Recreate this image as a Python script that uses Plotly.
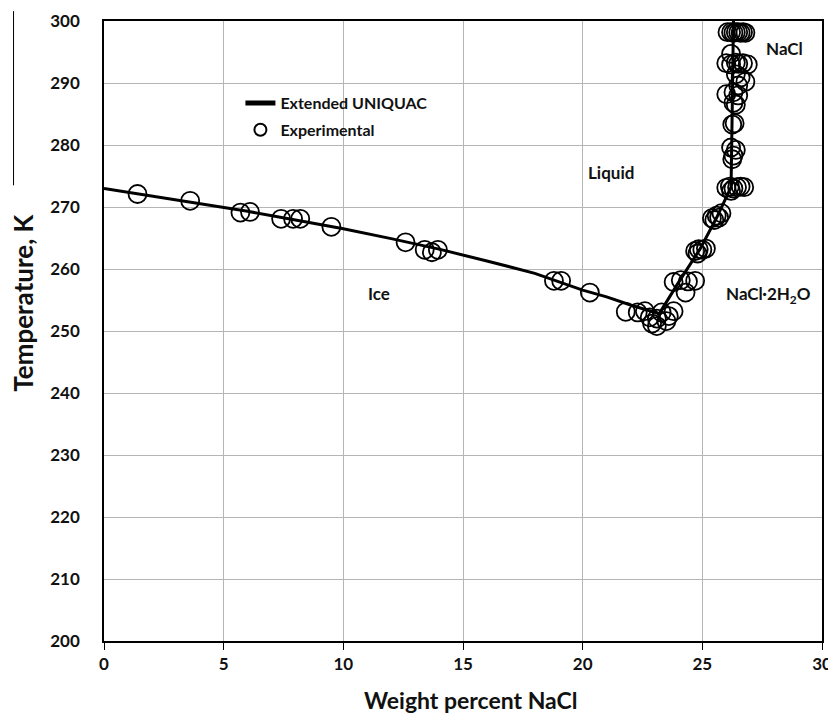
import plotly.graph_objects as go

# Extended UNIQUAC model curve (Weight percent NaCl, Temperature K)
model_x = [0, 2, 4, 6, 8, 10, 12, 14, 16, 18, 20, 21, 22, 23.2,
           24.0, 24.9, 25.6, 26.2, 26.25, 26.3]
model_t = [273.0, 271.8, 270.6, 269.3, 267.9, 266.5, 264.9, 263.2, 261.3, 259.3, 256.6, 255.5, 254.2, 252.8,
           257.8, 263.2, 268.3, 273.2, 286.0, 300.0]

# Experimental data
exp_x = [1.4, 3.6, 5.7, 6.1, 7.4, 7.9, 8.2, 9.5, 12.6, 13.4, 13.7, 13.95, 18.8, 19.1, 20.3,
         21.8, 22.3, 22.6, 22.8, 22.9, 23.1, 23.3, 23.5, 23.6, 23.8, 23.1,
         23.8, 24.1, 24.4, 24.7, 24.3,
         24.7, 24.85, 25.0, 25.15, 24.8,
         25.4, 25.6, 25.7, 25.8, 25.5,
         26.0, 26.15, 26.3, 26.45, 26.6, 26.75, 26.2,
         26.2, 26.4, 26.3, 26.25,
         26.25, 26.35,
         26.3, 26.4,
         26.0, 26.3, 26.5,
         26.4, 26.6, 26.8, 26.5,
         26.0, 26.2, 26.4, 26.5, 26.7, 26.9,
         26.2,
         26.05, 26.2, 26.3, 26.4, 26.5, 26.6, 26.7, 26.8]
exp_t = [272.1, 271.0, 269.1, 269.2, 268.1, 268.1, 268.1, 266.8, 264.3, 263.1, 262.7, 263.1, 258.1, 258.1, 256.2,
         253.1, 253.0, 253.2, 252.2, 251.2, 252.0, 253.0, 251.6, 252.4, 253.2, 250.8,
         257.9, 258.2, 258.0, 258.1, 256.2,
         262.9, 263.2, 263.1, 263.3, 262.5,
         268.2, 268.6, 268.3, 269.0, 267.9,
         273.1, 273.3, 273.0, 273.2, 273.3, 273.2, 272.6,
         279.6, 279.2, 278.3, 277.7,
         283.3, 283.5,
         286.8, 286.5,
         288.2, 288.5, 288.0,
         291.4, 290.9, 290.2, 289.6,
         293.2, 293.0, 293.3, 293.1, 293.2, 293.0,
         294.7,
         298.2, 298.2, 298.1, 298.2, 298.2, 298.1, 298.2, 298.1]

x_ticks = [0, 5, 10, 15, 20, 25, 30]
y_ticks = [200, 210, 220, 230, 240, 250, 260, 270, 280, 290, 300]
y_range = [200, 300]

x_title = "Weight percent NaCl"
y_title = "Temperature, K"

# Region labels
label_text = ["NaCl", "Liquid", "Ice", "NaCl·2H<sub>2</sub>O"]
label_x = [28.45, 21.2, 11.5, 27.75]
label_t = [295.6, 275.6, 256.0, 255.8]

FONT = "Lato, 'DejaVu Sans', sans-serif"
TICKFONT = dict(family=FONT, size=17, color="#111", weight="bold")

fig = go.Figure()
fig.add_trace(go.Scatter(
    x=model_x, y=model_t, mode="lines", name="Extended UNIQUAC",
    line=dict(color="black", width=3), legendgroup="a"))
fig.add_trace(go.Scatter(
    x=exp_x, y=exp_t, mode="markers", name="Experimental",
    marker=dict(symbol="circle-open", size=18, color="black", line=dict(width=1.8)),
    legendgroup="b"))

for t, x, y in zip(label_text, label_x, label_t):
    fig.add_annotation(x=x, y=y, text=t, showarrow=False,
                       font=dict(family=FONT, size=17, color="#111", weight="bold"))

# axis titles placed as in the reference
fig.add_annotation(text=x_title, xref="paper", yref="paper", x=0.511, y=-0.095,
                   xanchor="center", yanchor="middle", showarrow=False,
                   font=dict(family=FONT, size=23, color="#111", weight="bold"))
fig.add_annotation(text=y_title, xref="paper", yref="paper", x=-0.112, y=0.545,
                   xanchor="center", yanchor="middle", showarrow=False, textangle=-90,
                   font=dict(family=FONT, size=26, color="#111", weight="bold"))

# thin artifact line above the y title
fig.add_shape(type="line", xref="paper", yref="paper",
              x0=-0.126, x1=-0.126, y0=1.016, y1=0.735,
              line=dict(color="black", width=1))

fig.update_layout(
    width=836, height=715,
    margin=dict(l=96, r=22, t=13, b=82, autoexpand=False),
    paper_bgcolor="white", plot_bgcolor="white",
    font=dict(family=FONT, color="#111"),
    xaxis=dict(range=[0, 30], tickvals=x_ticks,
               showgrid=True, gridcolor="#b5b5b5", gridwidth=1,
               showline=True, linecolor="black", linewidth=1.5, mirror=True,
               ticks="outside", ticklen=7, tickwidth=1, tickcolor="black",
               tickfont=TICKFONT, zeroline=False, automargin=False),
    # main y axis: labels set further out (invisible long ticks)
    yaxis=dict(range=y_range, tickvals=y_ticks,
               showgrid=True, gridcolor="#b5b5b5", gridwidth=1,
               showline=True, linecolor="black", linewidth=1.5, mirror=True,
               ticks="outside", ticklen=19, tickwidth=1, tickcolor="rgba(0,0,0,0)",
               tickfont=TICKFONT, zeroline=False, automargin=False),
    # overlay y axis: the visible short tick marks
    yaxis2=dict(range=y_range, tickvals=y_ticks, overlaying="y", side="left",
                showgrid=False, showline=False, zeroline=False, showticklabels=False,
                ticks="outside", ticklen=7, tickwidth=1, tickcolor="black",
                automargin=False),
    legend=dict(x=0.19, y=0.895, xanchor="left", yanchor="top",
                bgcolor="rgba(0,0,0,0)", borderwidth=0,
                font=dict(family=FONT, size=16, color="#111", weight="bold"),
                itemsizing="constant", traceorder="grouped", tracegroupgap=3),
    showlegend=True,
)

fig.write_html("out.html")
